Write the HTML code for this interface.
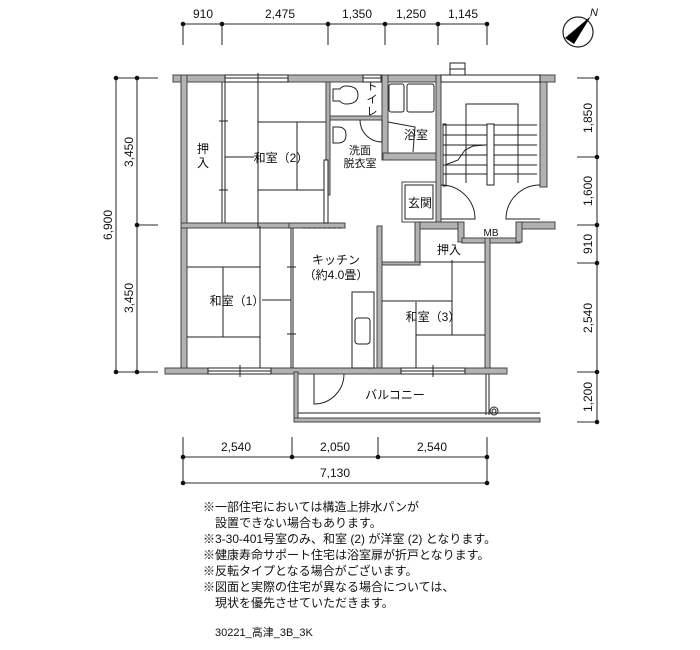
<!DOCTYPE html>
<html><head><meta charset="utf-8"><style>
html,body{margin:0;padding:0;background:#fff;}
svg{display:block;}
text{font-family:"Liberation Sans","Noto Sans CJK JP",sans-serif;fill:#111;}
.w{fill:#b2b2b2;stroke:#444;stroke-width:1;}
.l{stroke:#222;stroke-width:1;fill:none;}
.d{stroke:#555;stroke-width:1.3;fill:none;}
</style></head><body>
<svg width="700" height="650" viewBox="0 0 700 650" xmlns="http://www.w3.org/2000/svg">
<!-- top dims -->
<g font-size="12" text-anchor="middle">
<line class="d" x1="183" y1="24" x2="487" y2="24"/>
<g class="d"><line x1="183" y1="24" x2="183" y2="45"/><line x1="222" y1="24" x2="222" y2="45"/><line x1="328" y1="24" x2="328" y2="45"/><line x1="385" y1="24" x2="385" y2="45"/><line x1="438" y1="24" x2="438" y2="45"/><line x1="487" y1="24" x2="487" y2="45"/></g>
<g fill="#111"><circle cx="183" cy="24" r="2.3"/><circle cx="222" cy="24" r="2.3"/><circle cx="328" cy="24" r="2.3"/><circle cx="385" cy="24" r="2.3"/><circle cx="438" cy="24" r="2.3"/><circle cx="487" cy="24" r="2.3"/></g>
<text x="203" y="18">910</text><text x="280" y="18">2,475</text><text x="357" y="18">1,350</text><text x="411" y="18">1,250</text><text x="463" y="18">1,145</text>
<!-- left dims -->
<line class="d" x1="116" y1="78" x2="116" y2="372"/><line class="d" x1="137" y1="78" x2="137" y2="372"/>
<line class="d" x1="116" y1="78" x2="158" y2="78"/><line class="d" x1="137" y1="225" x2="158" y2="225"/><line class="d" x1="116" y1="372" x2="158" y2="372"/>
<g fill="#111"><circle cx="116" cy="78" r="2.3"/><circle cx="137" cy="78" r="2.3"/><circle cx="137" cy="225" r="2.3"/><circle cx="116" cy="372" r="2.3"/><circle cx="137" cy="372" r="2.3"/></g>
<text transform="translate(112,225) rotate(-90)">6,900</text>
<text transform="translate(133,152) rotate(-90)">3,450</text>
<text transform="translate(133,298) rotate(-90)">3,450</text>
<!-- right dims -->
<line class="d" x1="597" y1="78" x2="597" y2="422"/>
<g class="d"><line x1="577" y1="78" x2="597" y2="78"/><line x1="577" y1="157" x2="597" y2="157"/><line x1="577" y1="225" x2="597" y2="225"/><line x1="577" y1="263" x2="597" y2="263"/><line x1="577" y1="372" x2="597" y2="372"/><line x1="577" y1="422" x2="597" y2="422"/></g>
<g fill="#111"><circle cx="597" cy="78" r="2.3"/><circle cx="597" cy="157" r="2.3"/><circle cx="597" cy="225" r="2.3"/><circle cx="597" cy="263" r="2.3"/><circle cx="597" cy="372" r="2.3"/><circle cx="597" cy="422" r="2.3"/></g>
<text transform="translate(592,118) rotate(-90)">1,850</text>
<text transform="translate(592,191) rotate(-90)">1,600</text>
<text transform="translate(592,244) rotate(-90)">910</text>
<text transform="translate(592,318) rotate(-90)">2,540</text>
<text transform="translate(592,397) rotate(-90)">1,200</text>
<!-- bottom dims -->
<line class="d" x1="183" y1="457" x2="487" y2="457"/><line class="d" x1="183" y1="483" x2="487" y2="483"/>
<g class="d"><line x1="183" y1="437" x2="183" y2="483"/><line x1="292" y1="437" x2="292" y2="457"/><line x1="378" y1="437" x2="378" y2="457"/><line x1="487" y1="437" x2="487" y2="483"/></g>
<g fill="#111"><circle cx="183" cy="457" r="2.3"/><circle cx="292" cy="457" r="2.3"/><circle cx="378" cy="457" r="2.3"/><circle cx="487" cy="457" r="2.3"/><circle cx="183" cy="483" r="2.3"/><circle cx="487" cy="483" r="2.3"/></g>
<text x="236" y="451">2,540</text><text x="335" y="451">2,050</text><text x="432" y="451">2,540</text><text x="335" y="477">7,130</text>
</g>
<!-- compass -->
<circle cx="578" cy="32" r="15" fill="#fff" stroke="#222" stroke-width="1.2"/>
<polygon points="591,16 565,38 574,44" fill="#000"/>
<text x="590" y="16" font-size="11" font-style="italic">N</text>

<!-- walls -->
<g class="w">
<rect x="173" y="75" width="52" height="7"/>
<rect x="288" y="75" width="75" height="7"/>
<rect x="381" y="75" width="60" height="7"/>
<rect x="540" y="75" width="15" height="7"/>
<rect x="181" y="75" width="6" height="299"/>
<rect x="326" y="82" width="4" height="113"/>
<rect x="330" y="116" width="52" height="4"/>
<rect x="382" y="75" width="6" height="85"/>
<rect x="383" y="153" width="57" height="7"/>
<rect x="436" y="75" width="5" height="147"/>
<rect x="540" y="82" width="7" height="105"/>
<rect x="181" y="223" width="109" height="5"/>
<rect x="289" y="223" width="56" height="5"/>
<rect x="415" y="222" width="47" height="7"/>
<rect x="520" y="222" width="35" height="7"/>
<rect x="458" y="222" width="6" height="20"/>
<rect x="462" y="238" width="58" height="5"/>
<rect x="516" y="222" width="6" height="20"/>
<rect x="485" y="238" width="5" height="136"/>
<rect x="415" y="222" width="5" height="43"/>
<rect x="382" y="262" width="38" height="3"/>
<rect x="377" y="226" width="5" height="145"/>
<rect x="165" y="368" width="43" height="6"/>
<rect x="271" y="368" width="130" height="6"/>
<rect x="465" y="368" width="42" height="6"/>
<rect x="294" y="372" width="4" height="50"/>
<rect x="294" y="418" width="246" height="4"/>
</g>
<g class="l">
<!-- windows top -->
<rect x="225" y="75" width="63" height="7" fill="#fff"/><line x1="225" y1="78" x2="288" y2="78"/><line x1="258" y1="73" x2="258" y2="84"/>
<rect x="363" y="75" width="18" height="7" fill="#fff"/><line x1="363" y1="78" x2="381" y2="78"/>
<rect x="441" y="75" width="99" height="7" fill="#fff"/>
<rect x="450" y="63" width="15" height="12" fill="#fff"/><line x1="450" y1="69" x2="465" y2="69"/>
<!-- bottom windows -->
<rect x="208" y="368" width="63" height="6" fill="#fff"/><line x1="208" y1="371" x2="271" y2="371"/><line x1="240" y1="365" x2="240" y2="377"/>
<rect x="401" y="368" width="64" height="6" fill="#fff"/><line x1="401" y1="371" x2="465" y2="371"/><line x1="433" y1="365" x2="433" y2="377"/>
<line x1="298" y1="413" x2="540" y2="413"/>
<line x1="486" y1="374" x2="486" y2="415"/><line x1="489" y1="374" x2="489" y2="415"/>
<circle cx="494" cy="411" r="4"/><circle cx="494" cy="411" r="2"/>
<!-- balcony door -->
<path d="M314,374 L314,404 A30,30 0 0 0 344,374"/>
<!-- closet upper-left -->
<line x1="222" y1="82" x2="222" y2="223"/><line x1="225" y1="82" x2="225" y2="223"/>
<line x1="219" y1="121" x2="228" y2="121"/><line x1="219" y1="190" x2="228" y2="190"/>
<line x1="225" y1="157" x2="254" y2="157"/>
<!-- tatami 2 -->
<line x1="258" y1="75" x2="258" y2="228"/><line x1="258" y1="122" x2="326" y2="122"/><line x1="258" y1="190" x2="326" y2="190"/><line x1="297" y1="122" x2="297" y2="190"/>
<rect x="324" y="160" width="4" height="63" fill="#fff"/>
<!-- toilet -->
<path d="M333,89 L340,89 Q342,86 346,86 Q358,86 358,95 Q358,104 346,104 Q342,104 340,101 L333,101 Z"/>
<!-- basin -->
<path d="M333,127 L338,127 Q346,127 346,135 Q346,143 338,143 L333,143 Z"/>
<!-- wash door -->
<path d="M360,120 A22,22 0 0 0 382,142 L382,120"/>
<!-- bath -->
<rect x="389" y="84" width="15" height="28" rx="2"/><rect x="407" y="84" width="27" height="28" rx="2"/>
<path d="M388,122 L415,127 L413,152"/>
<!-- stairs -->
<g><line x1="443" y1="125" x2="537" y2="125"/><line x1="443" y1="135" x2="537" y2="135"/><line x1="443" y1="145" x2="537" y2="145"/><line x1="443" y1="155" x2="537" y2="155"/><line x1="443" y1="165" x2="537" y2="165"/><line x1="443" y1="174" x2="537" y2="174"/></g>
<rect x="443" y="124" width="3" height="62"/>
<rect x="487" y="124" width="7" height="61" fill="#fff"/>
<path d="M466,183 L466,104 L518,104 L518,183"/>
<path d="M445,165 L458,160 L465,150 L473,146 L486,145"/>
<!-- entry -->
<rect x="402" y="182" width="34" height="40" fill="#fff" stroke="#444"/><rect x="405" y="185" width="28" height="34"/>
<path d="M441,185 A34,34 0 0 1 475,219 L441,219"/>
<path d="M540,185 A34,34 0 0 0 506,219 L540,219"/>
<!-- kitchen -->
<line x1="303" y1="228" x2="343" y2="228" stroke-dasharray="3,2"/>
<line x1="291" y1="228" x2="291" y2="368"/><line x1="293" y1="228" x2="293" y2="368"/>
<line x1="287" y1="267" x2="296" y2="267"/><line x1="287" y1="334" x2="296" y2="334"/>
<rect x="352" y="292" width="22" height="76"/><rect x="355" y="318" width="15" height="26" rx="3"/>
<!-- tatami 1 -->
<line x1="187" y1="267" x2="260" y2="267"/><line x1="187" y1="337" x2="260" y2="337"/><line x1="223" y1="267" x2="223" y2="337"/><line x1="260" y1="226" x2="260" y2="368"/>
<line x1="262" y1="300" x2="291" y2="300"/>
<!-- tatami 3 -->
<line x1="382" y1="301" x2="452" y2="301"/><line x1="452" y1="260" x2="452" y2="335"/><line x1="416" y1="335" x2="485" y2="335"/><line x1="416" y1="302" x2="416" y2="368"/>
<line x1="420" y1="262" x2="485" y2="262"/>
</g>
<!-- labels -->
<g font-size="12" text-anchor="middle">
<text x="203" y="153">押</text><text x="203" y="167">入</text>
<text x="281" y="162">和室（2）</text>
<text x="372" y="90" font-size="11">ト</text><text x="372" y="103" font-size="11">イ</text><text x="372" y="115" font-size="11">レ</text>
<text x="360" y="154" font-size="11">洗面</text><text x="360" y="167" font-size="11">脱衣室</text>
<text x="416" y="139">浴室</text>
<text x="420" y="207">玄関</text>
<text x="491" y="236" font-size="10">MB</text>
<text x="449" y="254">押入</text>
<text x="336" y="264">キッチン</text>
<text x="336" y="279">（約4.0畳）</text>
<text x="237" y="305">和室（1）</text>
<text x="433" y="321">和室（3）</text>
<text x="395" y="399">バルコニー</text>
</g>
<g font-size="12">
<text x="203" y="511">※一部住宅においては構造上排水パンが</text>
<text x="215" y="527">設置できない場合もあります。</text>
<text x="203" y="543">※3-30-401号室のみ、和室 (2) が洋室 (2) となります。</text>
<text x="203" y="559">※健康寿命サポート住宅は浴室扉が折戸となります。</text>
<text x="203" y="575">※反転タイプとなる場合がございます。</text>
<text x="203" y="591">※図面と実際の住宅が異なる場合については、</text>
<text x="215" y="607">現状を優先させていただきます。</text>
<text x="215" y="636" font-size="11">30221_高津_3B_3K</text>
</g>
</svg>
</body></html>
